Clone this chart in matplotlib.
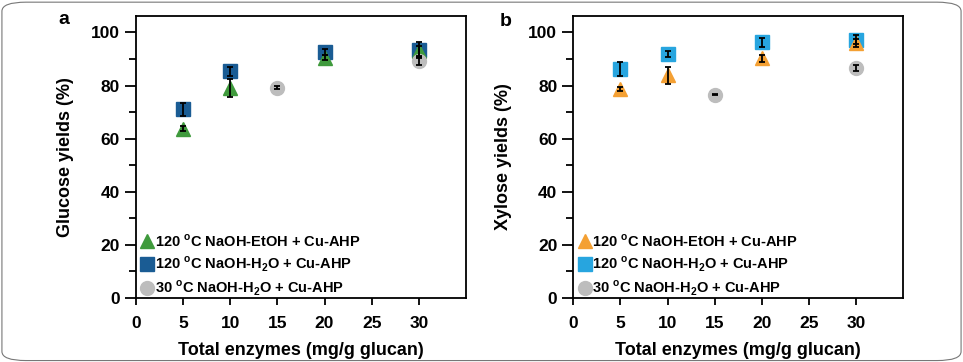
import matplotlib.pyplot as plt
from matplotlib.patches import FancyBboxPatch
from matplotlib.ticker import MultipleLocator

plt.rcParams['font.family'] = ['Liberation Sans', 'DejaVu Sans']
plt.rcParams['font.weight'] = 'bold'
plt.rcParams['axes.labelweight'] = 'bold'
plt.rcParams['mathtext.fontset'] = 'custom'
plt.rcParams['mathtext.rm'] = 'Liberation Sans:bold'
plt.rcParams['mathtext.bf'] = 'Liberation Sans:bold'

# enzyme loadings (mg/g glucan)
x_main = [5, 10, 20, 30]
x_rt = [15, 30]

# glucose yields (%)
glc_etoh = [63.8, 79.0, 90.5, 93.0]
glc_etoh_err = [0.9, 3.3, 1.0, 2.0]
glc_h2o = [71.0, 85.3, 92.6, 93.5]
glc_h2o_err = [2.6, 1.7, 1.0, 3.0]
glc_rt = [79.2, 89.4]
glc_rt_err = [0.5, 1.5]

# xylose yields (%)
xyl_etoh = [78.6, 83.8, 90.2, 96.0]
xyl_etoh_err = [0.8, 3.3, 1.2, 1.5]
xyl_h2o = [86.3, 91.9, 96.4, 97.3]
xyl_h2o_err = [2.6, 1.2, 1.7, 1.7]
xyl_rt = [76.6, 86.5]
xyl_rt_err = [0.3, 1.2]

labels = ["120 $^{\\mathrm{o}}$C NaOH-EtOH + Cu-AHP",
          "120 $^{\\mathrm{o}}$C NaOH-H$_{\\mathrm{2}}$O + Cu-AHP",
          "30 $^{\\mathrm{o}}$C NaOH-H$_{\\mathrm{2}}$O + Cu-AHP"]

fig = plt.figure(figsize=(9.63, 3.62), dpi=100)

# rounded frame around the figure
frame = FancyBboxPatch((0.002, 0.004), 0.996, 0.99,
                       boxstyle="round,pad=0,rounding_size=0.025",
                       transform=fig.transFigure, fill=False,
                       edgecolor="#777777", linewidth=0.8)
fig.patches.append(frame)

ax1 = fig.add_axes([0.1412, 0.1768, 0.3427, 0.779])
ax2 = fig.add_axes([0.5953, 0.1768, 0.3427, 0.779])


def panel(ax, etoh, etoh_err, h2o, h2o_err, rt, rt_err, c_tri, c_sq, ylab):
    sq, = ax.plot(x_main, h2o, "s", ms=10, color=c_sq, zorder=2)
    tri, = ax.plot(x_main, etoh, "^", ms=10, color=c_tri, zorder=2.1)
    cir, = ax.plot(x_rt, rt, "o", ms=10, color="#bdbdbd", zorder=2.2)
    for xs, ys, es in [(x_main, h2o, h2o_err), (x_main, etoh, etoh_err),
                       (x_rt, rt, rt_err)]:
        ax.errorbar(xs, ys, yerr=es, fmt="none", ecolor="black",
                    elinewidth=1.3, capsize=2, capthick=1.3, zorder=3)

    ax.set_xlim(0, 35)
    ax.set_ylim(0, 106.2)
    ax.set_xticks([0, 5, 10, 15, 20, 25, 30])
    ax.yaxis.set_major_locator(MultipleLocator(20))
    ax.yaxis.set_minor_locator(MultipleLocator(10))
    ax.tick_params(axis="y", which="major", length=8, width=1.3, labelsize=12.5)
    ax.tick_params(axis="y", which="minor", length=5, width=1.3)
    ax.tick_params(axis="x", which="major", length=5, width=1.3, labelsize=12.5,
                   pad=8)
    for lbl in ax.get_xticklabels() + ax.get_yticklabels():
        lbl.set_fontweight("bold")
    for s in ax.spines.values():
        s.set_linewidth(1.3)
    ax.set_xlabel("Total enzymes (mg/g glucan)", fontsize=13, labelpad=8)
    ax.set_ylabel(ylab, fontsize=13, labelpad=12)

    ax.legend([tri, sq, cir], labels, loc="lower left",
              bbox_to_anchor=(0.015, 0.0), frameon=False,
              prop={"weight": "bold", "size": 10.5},
              handlelength=0.9, handletextpad=0.05, labelspacing=0.33,
              borderaxespad=0.0, borderpad=0.0)


panel(ax1, glc_etoh, glc_etoh_err, glc_h2o, glc_h2o_err, glc_rt, glc_rt_err,
      "#3f9a3c", "#1a5c94", "Glucose yields (%)")
panel(ax2, xyl_etoh, xyl_etoh_err, xyl_h2o, xyl_h2o_err, xyl_rt, xyl_rt_err,
      "#f4a033", "#27a5df", "Xylose yields (%)")

fig.text(0.066, 0.945, "a", fontsize=14, ha="center", va="center")
fig.text(0.525, 0.94, "b", fontsize=14, ha="center", va="center")

fig.savefig("out.png", dpi=100)
